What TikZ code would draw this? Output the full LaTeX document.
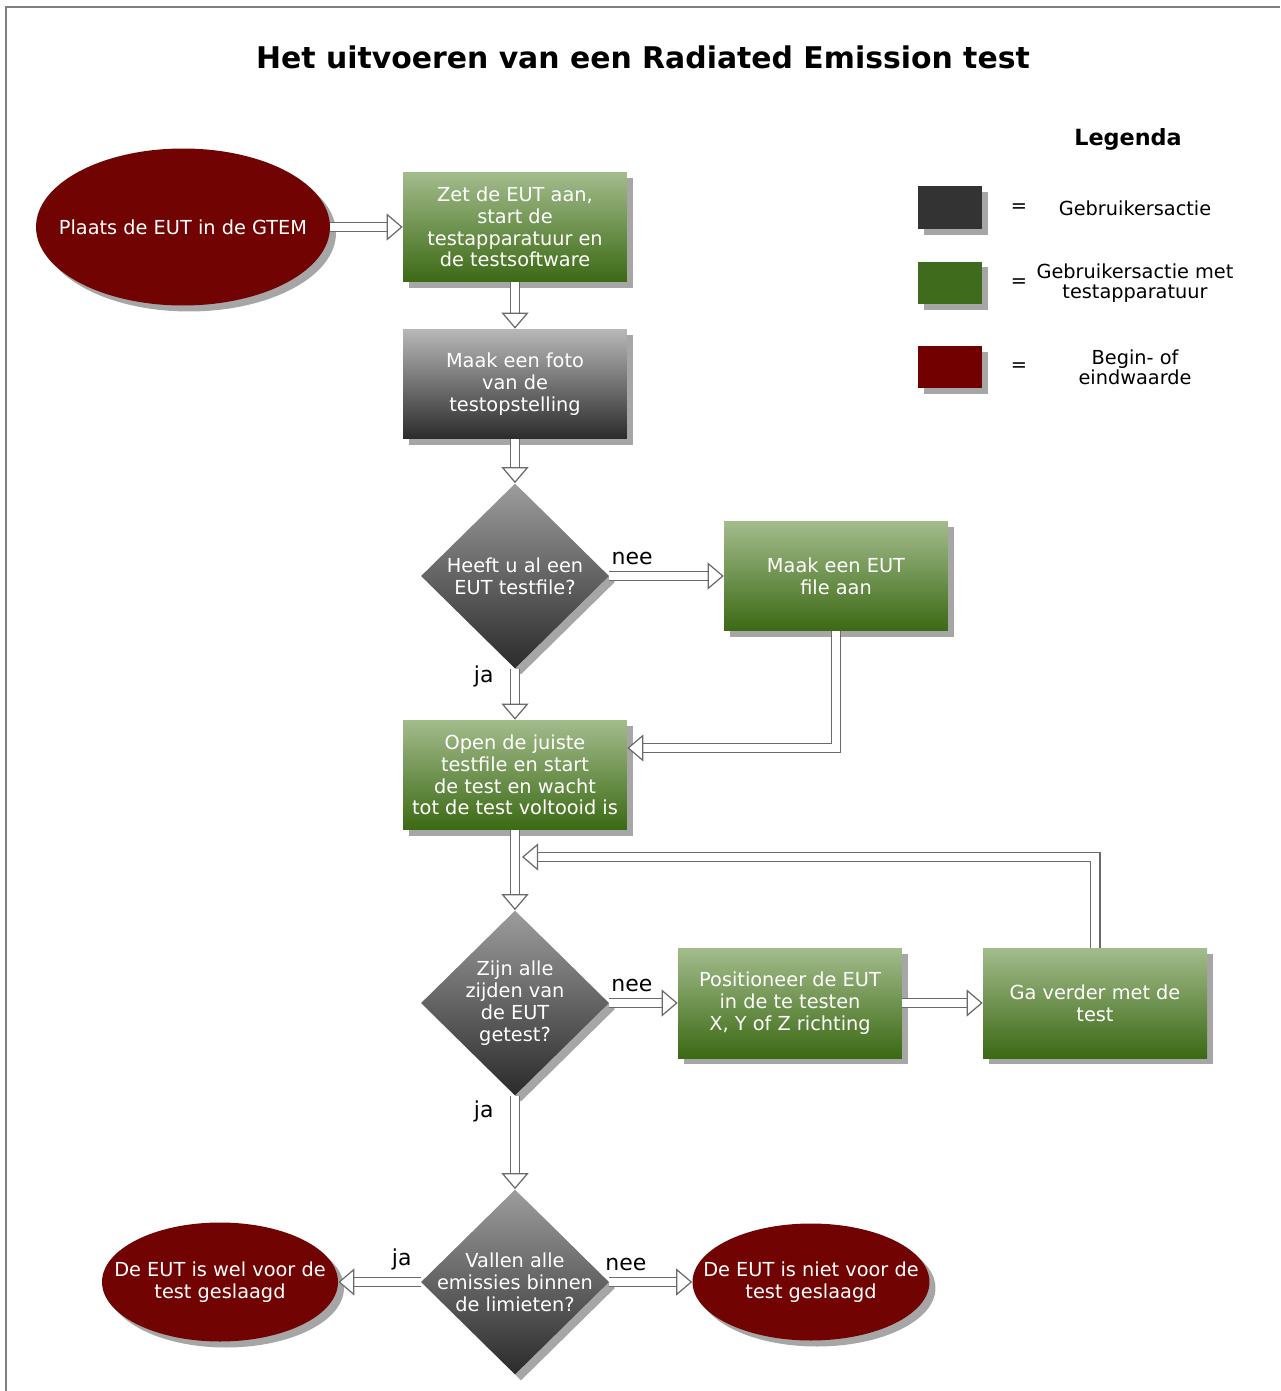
\documentclass[tikz,border=0pt]{standalone}
\usepackage{fontspec}
\setmainfont{DejaVu Sans}
\usetikzlibrary{shapes.geometric,shadows,arrows.meta,calc}
\definecolor{gntop}{HTML}{A3BC8C}
\definecolor{gnbot}{HTML}{3B6914}
\definecolor{gytop}{HTML}{B8B8B8}
\definecolor{gybot}{HTML}{2B2B2B}
\definecolor{rdfill}{HTML}{710303}
\definecolor{pijlkleur}{HTML}{6A6A6A}
\definecolor{legdark}{HTML}{333333}
\definecolor{leggreen}{HTML}{3F6B1C}
\definecolor{legred}{HTML}{730000}
\begin{document}
\begin{tikzpicture}[x=0.02cm, y=-0.02cm,
    font=\fontsize{11}{12.4}\selectfont,
    schaduw/.style={drop shadow={shadow xshift=0.12cm, shadow yshift=-0.12cm, fill=black!35, opacity=1}},
    actie/.style={rectangle, schaduw, top color=gntop, bottom color=gnbot, text=white, align=center,
        minimum width=4.48cm, minimum height=2.2cm, inner sep=2pt},
    foto/.style={actie, top color=gytop, bottom color=gybot},
    vraag/.style={diamond, schaduw, top color=gytop!85!black, bottom color=gybot, text=white, align=center,
        minimum width=3.76cm, minimum height=3.7cm, inner sep=-0.2cm},
    eind/.style={ellipse, schaduw, fill=rdfill, text=white, align=center, inner sep=-0.5cm},
    pijl/.style={draw=pijlkleur, line width=0.7pt, double=white, double distance=0.17cm,
        -{Triangle[open, length=0.32cm, width=0.54cm, fill=white, line width=0.7pt]}},
    lbl/.style={font=\fontsize{12.5}{14}\selectfont, text=black},
    legbox/.style={rectangle, schaduw, minimum width=1.28cm, minimum height=0.86cm}]
\useasboundingbox (0,0) rectangle (1280,1391);
\draw[gray, line width=0.05cm] (6,1391) -- (6,7) -- (1280,7);

\node[font=\bfseries\fontsize{17}{20}\selectfont] (titel) at (643,57) {Het uitvoeren van een Radiated Emission test};

% legenda
\node[font=\bfseries\fontsize{12.7}{15}\selectfont] (legenda) at (1128,139) {Legenda};
\foreach \y/\c/\t in {208/legdark/{Gebruikersactie}, 283/leggreen/{Gebruikersactie met\\testapparatuur}, 367/legred/{Begin- of\\eindwaarde}}
{
    \node[legbox, fill=\c] (kleur\y) at (950,\y) {};
    \node (is\y) at (1019,\y) {=};
    \node[align=center, font=\fontsize{11}{11.6}\selectfont] (uitleg\y) at (1135,\y) {\t};
}

% stroomschema
\node[eind, minimum width=5.88cm, minimum height=3.14cm] (start) at (183,227) {Plaats de EUT in de GTEM};
\node[actie] (zet) at (515,227) {Zet de EUT aan,\\start de\\testapparatuur en\\de testsoftware};
\node[foto] (foto) at (515,384) {Maak een foto\\van de\\testopstelling};
\node[vraag] (heeft) at (515,576) {Heeft u al een\\EUT testfile?};
\node[actie] (maak) at (836,576) {Maak een EUT\\file aan};
\node[actie] (open) at (515,775) {Open de juiste\\testfile en start\\de test en wacht\\tot de test voltooid is};
\node[vraag] (zijden) at (515,1003) {Zijn alle\\zijden van\\de EUT\\getest?};
\node[actie] (pos) at (790,1003) {Positioneer de EUT\\in de te testen\\X, Y of Z richting};
\node[actie] (verder) at (1095,1003) {Ga verder met de\\test};
\node[vraag] (limiet) at (515,1282) {Vallen alle\\emissies binnen\\de limieten?};
\node[eind, minimum width=4.72cm, minimum height=2.38cm] (wel) at (220,1282) {De EUT is wel voor de\\test geslaagd};
\node[eind, minimum width=4.74cm, minimum height=2.34cm] (niet) at (811,1282) {De EUT is niet voor de\\test geslaagd};

\coordinate (inopen) at ($(open.east)+(0,-27)$);
\coordinate (terug) at (515,857);

\draw[pijl] (start.east) -- (zet.west);
\draw[pijl] (zet.south) -- (foto.north);
\draw[pijl] (foto.south) -- (heeft.north);
\draw[pijl] (heeft.east) -- node[lbl, above=0.1cm, pos=.2] (nee1) {nee} (maak.west);
\draw[pijl] (heeft.south) -- node[lbl, left=0.3cm, pos=.15] (ja1) {ja} (open.north);
\draw[pijl] (maak.south) |- (inopen);
\draw[pijl] (open.south) -- (zijden.north);
\draw[pijl, shorten >=0.14cm] (verder.north) |- (terug);
\draw[pijl] (zijden.east) -- node[lbl, above=0.1cm, pos=.33] (nee2) {nee} (pos.west);
\draw[pijl] (pos.east) -- (verder.west);
\draw[pijl] (zijden.south) -- node[lbl, left=0.3cm, pos=.17] (ja2) {ja} (limiet.north);
\draw[pijl] (limiet.west) -- node[lbl, above=0.1cm, pos=.23] (ja3) {ja} (wel.east);
\draw[pijl] (limiet.east) -- node[lbl, above=0.1cm, pos=.2] (nee3) {nee} (niet.west);
\end{tikzpicture}
\end{document}
